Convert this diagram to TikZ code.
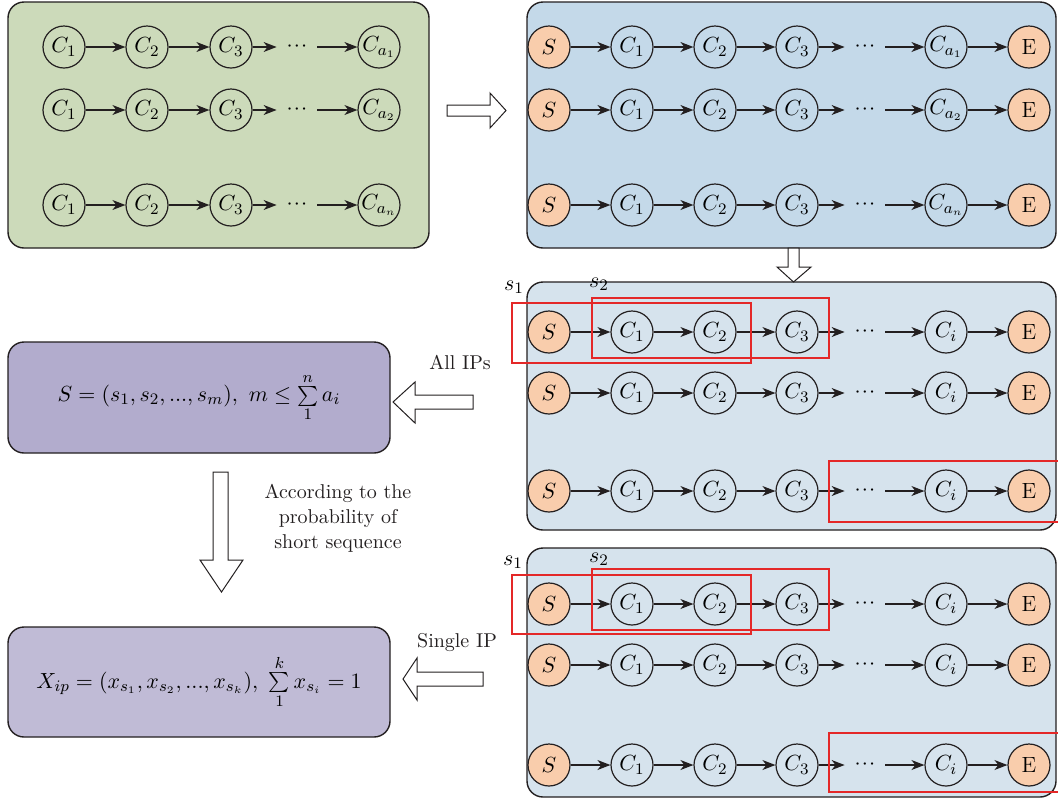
\documentclass[tikz,border=0pt]{standalone}
\usetikzlibrary{arrows.meta}

\definecolor{ink}{RGB}{35,31,32}
\definecolor{greenpanel}{RGB}{204,218,186}
\definecolor{bluepanel}{RGB}{196,217,233}
\definecolor{palepanel}{RGB}{214,227,237}
\definecolor{endorange}{RGB}{249,205,172}
\definecolor{purpleA}{RGB}{178,172,205}
\definecolor{purpleB}{RGB}{192,187,214}
\definecolor{pickred}{RGB}{228,40,40}

\begin{document}
\begin{tikzpicture}[x=0.5pt, y=-0.5pt,
	main/.style = {draw=ink, circle, line width=0.6pt, minimum size=21pt, inner sep=0pt, font=\fontsize{11}{13}\selectfont},
	ends/.style = {main, fill=endorange},
	gap/.style = {minimum width=20pt, inner sep=0pt, font=\fontsize{11}{13}\selectfont},
	link/.style = {draw=ink, line width=0.6pt, -{Stealth[length=6.5pt, width=5pt, inset=2pt]}},
	panel/.style = {draw=ink, line width=0.7pt, rounded corners=8pt},
	formula/.style = {panel, minimum width=191pt, font=\fontsize{11}{13}\selectfont},
	pick/.style = {draw=pickred, line width=0.6pt},
	hollow/.style = {draw=ink, fill=white, line width=0.5pt, line join=miter},
	note/.style = {font=\fontsize{10}{12.5}\selectfont, text=ink, align=center}]
	\clip (0,0) rectangle (1058,799);

	% panels
	\draw[panel, fill=greenpanel] (8,2) rectangle (429,248);
	\draw[panel, fill=bluepanel] (527,2) rectangle (1056,248);
	\draw[panel, fill=palepanel] (527,282) rectangle (1056,530);
	\draw[panel, fill=palepanel] (527,548) rectangle (1056,797);

	% chains without start and end
	\foreach \r/\y/\k in {1/47/1, 2/110/2, 3/205/n} {
		\node[main] (g\r1) at (64,\y) {$C_1$};
		\node[main] (g\r2) at (147,\y) {$C_2$};
		\node[main] (g\r3) at (231,\y) {$C_3$};
		\node[gap] (g\r4) at (297,\y) {$\cdot\!\cdot\!\cdot$};
		\node[main] (g\r5) at (379,\y) {$C_{a_\k}$};
		\draw[link] (g\r1) -- (g\r2);
		\draw[link] (g\r2) -- (g\r3);
		\draw[link] (g\r3) -- (g\r4);
		\draw[link] (g\r4) -- (g\r5);
	}

	% chains with S and E
	\foreach \p/\y/\k in {t1/47/C_{a_1}, t2/110/C_{a_2}, t3/205/C_{a_n},
		m1/332/C_i, m2/393/C_i, m3/491/C_i, b1/604/C_i, b2/665/C_i, b3/765/C_i} {
		\node[ends] (\p0) at (549,\y) {$S$};
		\node[main] (\p1) at (632,\y) {$C_1$};
		\node[main] (\p2) at (715,\y) {$C_2$};
		\node[main] (\p3) at (797,\y) {$C_3$};
		\node[gap] (\p4) at (865,\y) {$\cdot\!\cdot\!\cdot$};
		\node[main] (\p5) at (946,\y) {$\k$};
		\node[ends] (\p6) at (1029,\y) {E};
		\draw[link] (\p0) -- (\p1);
		\draw[link] (\p1) -- (\p2);
		\draw[link] (\p2) -- (\p3);
		\draw[link] (\p3) -- (\p4);
		\draw[link] (\p4) -- (\p5);
		\draw[link] (\p5) -- (\p6);
	}

	% short sequences
	\draw[pick] (512,303) rectangle (751,363);
	\draw[pick] (592,298) rectangle (829,358);
	\draw[pick] (829,461) rectangle (1070,522);
	\draw[pick] (512,575) rectangle (751,634);
	\draw[pick] (592,569) rectangle (829,630);
	\draw[pick] (829,733) rectangle (1070,792);
	\node[gap] (ms1) at (514,287) {$s_1$};
	\node[gap] (ms2) at (599,284) {$s_2$};
	\node[gap] (bs1) at (513,562) {$s_1$};
	\node[gap] (bs2) at (599,559) {$s_2$};

	% results
	\node[formula, fill=purpleA, minimum height=55.5pt] (allseq) at (199,397.5)
		{$S = (s_1, s_2, ..., s_m),\ m \leq \sum\limits_1^n a_i$};
	\node[formula, fill=purpleB, minimum height=55pt] (oneip) at (199,682)
		{$X_{ip} = (x_{s_1}, x_{s_2}, ..., x_{s_k}),\ \sum\limits_1^k x_{s_i} = 1$};

	% hollow arrows
	\draw[hollow] (447,105) -- (490,105) -- (490,93) -- (506,110.5) -- (490,128) -- (490,116) -- (447,116) -- cycle;
	\draw[hollow] (788,248) -- (788,267) -- (777,267) -- (793.5,282) -- (811,267) -- (799,267) -- (799,248) -- cycle;
	\draw[hollow] (473,395) -- (415,395) -- (415,382) -- (393,402) -- (415,423) -- (415,409) -- (473,409) -- cycle;
	\draw[hollow] (483,672) -- (417,672) -- (417,658) -- (403,679) -- (417,700) -- (417,686) -- (483,686) -- cycle;
	\draw[hollow] (213,472) -- (213,560) -- (200,560) -- (221.5,592) -- (243,560) -- (228,560) -- (228,472) -- cycle;

	\node[note] (allips) at (460,362) {All IPs};
	\node[note] (single) at (457,642) {Single IP};
	\node[note] (prob) at (338,518) {According to the\\probability of\\short sequence};
\end{tikzpicture}
\end{document}
